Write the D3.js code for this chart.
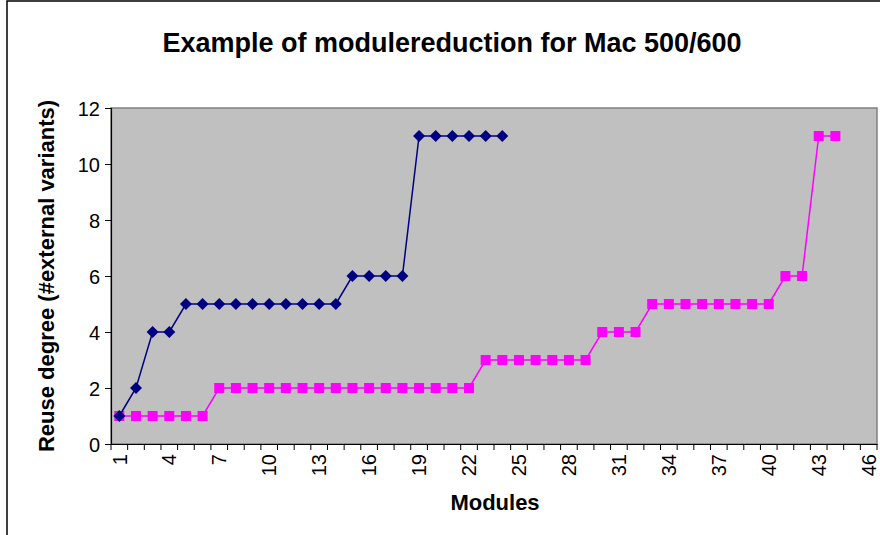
<!DOCTYPE html>
<html>
<head>
<meta charset="utf-8">
<script src="https://cdn.jsdelivr.net/npm/d3@7"></script>
<style>
  body { margin: 0; background: #fff; }
  svg text { font-family: "Liberation Sans", Arial, sans-serif; fill: #000; }
</style>
</head>
<body>
<svg id="chart" width="880" height="535"></svg>
<script>
// Module numbers on the category axis
const modules = d3.range(1, 47)
const x_labels = modules.filter(d => (d - 1) % 3 === 0)
const y_ticks = [0, 2, 4, 6, 8, 10, 12]

// Reuse degree per module, before and after reduction
const before = [1, 2, 4, 4, 5, 5, 5, 5, 5, 5, 5, 5, 5, 5, 6, 6, 6, 6, 11, 11, 11, 11, 11, 11]
const after = [1, 1, 1, 1, 1, 1, 2, 2, 2, 2, 2, 2, 2, 2, 2, 2, 2, 2, 2, 2, 2, 2,
  3, 3, 3, 3, 3, 3, 3, 4, 4, 4, 5, 5, 5, 5, 5, 5, 5, 5, 6, 6, 11, 11]

let svg = d3.select('#chart')
let plot = { left: 111, right: 877, top: 108, bottom: 444 }

// Outer chart frame
svg.append('rect')
  .attr('x', 7).attr('y', 1)
  .attr('width', 880).attr('height', 540)
  .attr('fill', '#fff')
  .attr('stroke', '#000')
  .attr('stroke-width', 1.5)

// Title
svg.append('text')
  .attr('x', 452).attr('y', 52)
  .attr('text-anchor', 'middle')
  .style('font-size', '27px')
  .style('font-weight', 'bold')
  .text('Example of modulereduction for Mac 500/600')

let x = d3.scaleBand()
  .domain(modules)
  .range([plot.left, plot.right])

let y = d3.scaleLinear()
  .domain([0, 12])
  .range([plot.bottom, plot.top])

// Plot area
svg.append('rect')
  .attr('x', plot.left).attr('y', plot.top)
  .attr('width', plot.right - plot.left)
  .attr('height', plot.bottom - plot.top)
  .attr('fill', '#c0c0c0')
  .attr('stroke', '#808080')
  .attr('stroke-width', 1.5)

// Y axis
let y_axis = svg.append('g')
  .attr('transform', `translate(${plot.left},0)`)
  .attr('font-size', 20)
  .call(d3.axisLeft(y).tickValues(y_ticks).tickSize(6).tickPadding(5))
y_axis.attr('font-size', 20).attr('font-family', null)
y_axis.select('.domain').attr('stroke', '#000').attr('stroke-width', 1.2)
y_axis.selectAll('.tick line').attr('stroke', '#000')
y_axis.selectAll('.tick text')
  .attr('dy', '0.36em')

// X axis: ticks sit between categories, labels every third module
let x_axis = svg.append('g')
  .attr('transform', `translate(0,${plot.bottom})`)
  .call(d3.axisBottom(x).tickSize(0).tickFormat(d => x_labels.includes(d) ? d : ''))
x_axis.attr('font-size', 20).attr('font-family', null)
x_axis.select('.domain').attr('stroke', '#000').attr('stroke-width', 1.2)
x_axis.selectAll('.tick text')
  .attr('transform', 'rotate(-90)')
  .attr('text-anchor', 'end')
  .attr('dy', '0.36em')
  .attr('x', -10)
  .attr('y', 0)

let bounds = modules.map(d => x(d)).concat([plot.right])
x_axis.selectAll('.sep')
  .data(bounds)
  .enter()
  .append('line')
    .attr('class', 'sep')
    .attr('x1', d => d).attr('x2', d => d)
    .attr('y1', 0).attr('y2', 6)
    .attr('stroke', '#000')

// Axis titles
svg.append('text')
  .attr('transform', `translate(54,${(plot.top + plot.bottom) / 2}) rotate(-90)`)
  .attr('text-anchor', 'middle')
  .style('font-size', '22px')
  .style('font-weight', 'bold')
  .text('Reuse degree (#external variants)')

svg.append('text')
  .attr('x', 495).attr('y', 510)
  .attr('text-anchor', 'middle')
  .style('font-size', '22px')
  .style('font-weight', 'bold')
  .text('Modules')

// Series
let cx = (d, i) => x(i + 1) + x.bandwidth() / 2
let line = d3.line().x(cx).y(d => y(d))

svg.append('path')
  .datum(after)
  .attr('d', line)
  .attr('fill', 'none')
  .attr('stroke', '#ff00ff')
  .attr('stroke-width', 1.5)

svg.selectAll('.sq')
  .data(after)
  .enter()
  .append('rect')
    .attr('class', 'sq')
    .attr('x', (d, i) => cx(d, i) - 5)
    .attr('y', d => y(d) - 5)
    .attr('width', 10).attr('height', 10)
    .attr('fill', '#ff00ff')

svg.append('path')
  .datum(before)
  .attr('d', line)
  .attr('fill', 'none')
  .attr('stroke', '#000080')
  .attr('stroke-width', 1.5)

svg.selectAll('.dia')
  .data(before)
  .enter()
  .append('path')
    .attr('class', 'dia')
    .attr('transform', (d, i) => `translate(${cx(d, i)},${y(d)})`)
    .attr('d', 'M0,-6L6,0L0,6L-6,0Z')
    .attr('fill', '#000080')
</script>
</body>
</html>
